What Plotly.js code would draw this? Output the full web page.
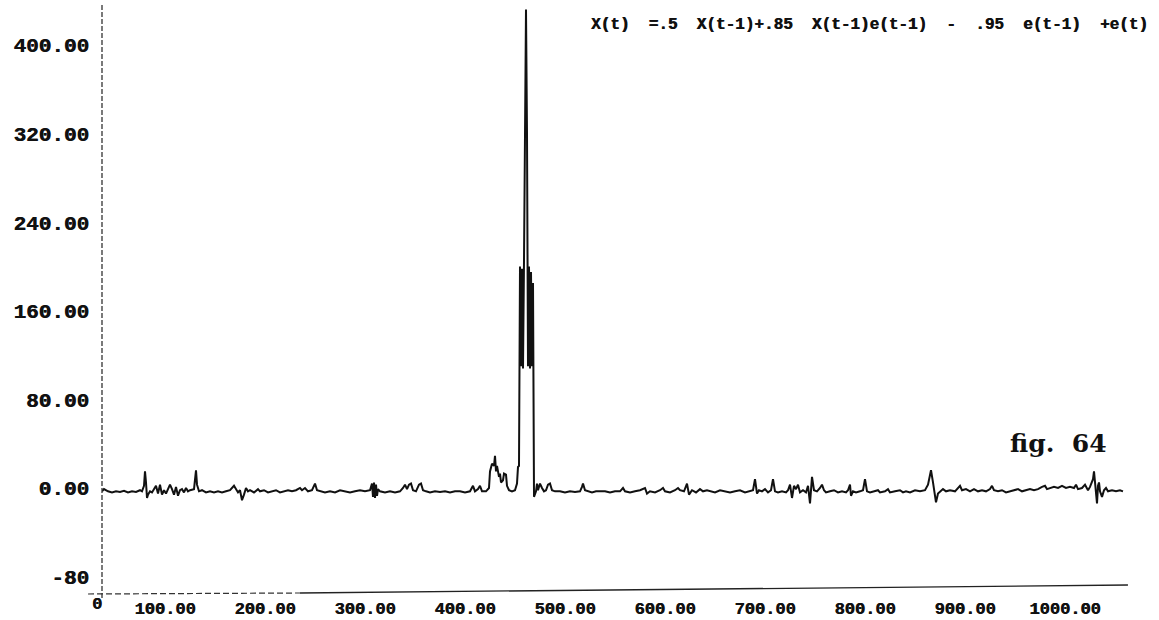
<!DOCTYPE html>
<html>
<head>
<meta charset="utf-8">
<script src="https://cdn.plot.ly/plotly-3.0.1.min.js"></script>
<style>
html,body{margin:0;padding:0;background:#fff;}
#chart{width:1159px;height:620px;}
</style>
</head>
<body>
<div id="chart"></div>
<script>
// time index (axis units) and series values X(t)
const tIndex = [
 37,39,43,47,51,55,59,63,67,71,75,77,79,80,81,82,83,85,87,91,93,95,97,99,101,105,107,109,111,113,115,117,119,121,123,125,129,131,132,134,137,141,145,149,153,157,161,165,169,171,173,175,177,179,181,183,185,189,193,195,199,203,207,211,215,219,223,
 227,231,235,237,240,243,247,250,252,255,260,265,270,275,280,285,290,295,300,305,307,308,309,310,311,312,313,315,320,325,330,335,338,340,342,344,346,348,351,354,356,358,361,365,370,375,380,385,390,395,400,405,408,410,413,415,417,421,424,425,427,429,430,431,432,434,435,436,438,439,441,442,444,447,450,452,453,454,
 455,456,457,458,459,460,461,462,463,464,465,466,467,468,469,
 471,472,473,475,477,479,481,483,485,487,490,495,500,505,510,515,517,518,520,523,527,531,535,
 540,545,550,555,558,560,565,570,575,580,582,585,590,595,598,600,605,610,613,615,619,622,624,627,631,635,638,642,646,650,655,660,665,670,675,680,685,688,690,692,694,697,700,703,706,708,710,713,717,721,723,725,727,729,731,733,735,738,741,743,745,747,749,752,
 755,757,759,761,765,769,773,777,781,783,785,786,788,791,795,798,800,802,805,810,813,815,820,823,825,830,835,838,841,845,850,855,860,863,865,866,868,870,871,873,875,878,881,885,890,893,895,897,901,905,909,913,917,921,925,927,929,933,937,941,945,
 949,953,957,961,965,969,973,977,980,982,985,989,993,997,1001,1005,1009,1011,1013,1017,1020,1023,1025,1028,1029,1030,1031,1032,1033,1034,1035,1037,1039,1041,1043,1047,1051,1055,1058
];
const xValues = [
 -3,-1,-3,-4,-3,-3.5,-2.5,-4,-3,-3.5,-2,-3,2,15,5,-9,-6,-3,-4,2,-5,3,-6,-2,-5,3,-1,-6,1,-7,-2,-1,-4,0,-3,-2,-1,16,3,-3,-2,-4,-3,-4,-3,-4,-3,-2,2,-1,-4,-2,-11,-6,0,-3,-2,-4,-1,-3,-2,-4,-3,-2,-4,-3,-2,
 -3,-2,0,-2,0,-3,-2,4,-2,-3,-4,-3,-4,-2,-3,-4,-3,-2,-3,-2,4,-8,5,-9,3,-7,-1,-3,-4,-3,-4,-3,0,3,-1,3,4,-2,-3,3,4,-2,-3,-4,-3,-3.5,-3,-4,-3,-3,-4,-3,2,-3,-1,2,-3,-3,0,15,22,20,29,15,20,10,13,5,7,13,12,2,-2,-3,-2,4,19,20,
 200,110,198,108,205,330,432,320,110,200,108,195,110,185,-8,
 -3,4,-2,4,0,-3,-2,3,4,-2,-3,-3,-4,-3,-3.5,-3,1,4,-2,-3,-4,-3,-3,
 -3,-4,-3,-3,0,-3,-4,-3,-2,0,-5,-3,-4,-2,0,-3,-4,-2,0,-2,-3,4,-6,-2,-4,-1,-3,-2,-3,-4,-2,-3,-4,-3,-2,-4,-3,-2,8,-5,-2,-3,-1,-4,-2,8,-3,-4,-3,-4,-2,3,-9,2,-1,3,-4,-2,-4,2,-14,10,-2,-3,
 0,3,-2,-4,-3,-2,-4,-3,-4,-2,3,-7,-3,-4,-3,-2,8,-3,-4,-3,-2,-4,-3,-1,-4,-3,-2,-4,-3,-4,-2,-3,-2,3,10,16,5,-9,-13,-5,-3,-1,-3,-2,-3,0,2,-2,-1,-3,-1,-3,-2,-3,-1,2,-2,-3,-2,-4,-3,
 -2,-1,-3,-2,-1,-2,-1,1,2,-1,0,1,0,2,0,1,0,3,-1,0,3,-2,1,8,15,4,-10,-14,2,5,-3,-8,-2,0,-3,-2,-3,-2,-3
];
const xTickVals = [100,200,300,400,500,600,700,800,900,1000];
const xTickText = ['100.00','200.00','300.00','400.00','500.00','600.00','700.00','800.00','900.00','1000.00'];
const yTickVals = [-80,0,80,160,240,320,400];
const yTickText = ['-80','0.00','80.00','160.00','240.00','320.00','400.00'];
const equationText = 'X(t)\u00a0\u00a0=.5\u00a0\u00a0X(t-1)+.85\u00a0\u00a0X(t-1)e(t-1)\u00a0\u00a0-\u00a0\u00a0.95\u00a0\u00a0e(t-1)\u00a0\u00a0+e(t)';
const figLabel = 'fig.\u00a0\u00a064';

const xTickFont = {family:'Liberation Mono, monospace', size:17, color:'#111', weight:'bold', shadow:'0.6px 0 0 #111'};
const yTickFont = {family:'Liberation Mono, monospace', size:21, color:'#111', weight:'bold', shadow:'0.6px 0 0 #111'};

const trace = {
  x: tIndex, y: xValues, type:'scatter', mode:'lines',
  line:{color:'#111', width:2}, hoverinfo:'skip'
};

const layout = {
  width:1159, height:620,
  margin:{l:102, r:30, t:5, b:28},
  paper_bgcolor:'#fff', plot_bgcolor:'#fff',
  showlegend:false,
  xaxis:{range:[37,1064], tickvals:xTickVals, ticktext:xTickText, showgrid:false, zeroline:false,
         showline:false, ticks:'', tickfont:xTickFont, ticklabelstandoff:4},
  yaxis:{range:[-93.9,436.1], tickvals:yTickVals, ticktext:yTickText, showgrid:false, zeroline:false,
         showline:false, ticks:'', tickfont:yTickFont, ticklabelstandoff:12},
  shapes:[
    {type:'line', xref:'paper', yref:'paper', x0:0, x1:0, y0:1.0, y1:-0.0136,
     line:{color:'#333', width:1.3, dash:'5px,2px'}},
    {type:'line', xref:'paper', yref:'paper', x0:-0.0136, x1:0.1928, y0:-0.0034, y1:-0.0017,
     line:{color:'#333', width:1.2, dash:'6px,3px'}},
    {type:'line', xref:'paper', yref:'paper', x0:0.1928, x1:0.999, y0:-0.0017, y1:0.0119,
     line:{color:'#222', width:1.3}}
  ],
  annotations:[
    {text:equationText, xref:'paper', yref:'paper', x:1.0204, y:0.966, xanchor:'right', yanchor:'middle',
     showarrow:false, font:{family:'Liberation Mono, monospace', size:16, color:'#111', weight:'bold', shadow:'0.6px 0 0 #111'}},
    {text:figLabel, xref:'paper', yref:'paper', x:0.9318, y:0.2538, xanchor:'center', yanchor:'middle',
     showarrow:false, font:{family:'DejaVu Serif, serif', size:25, color:'#111', weight:'bold'}},
    {text:'0', xref:'paper', yref:'paper', x:-0.0049, y:-0.022, xanchor:'center', yanchor:'middle',
     showarrow:false, font:xTickFont}
  ]
};

Plotly.newPlot('chart', [trace], layout, {staticPlot:true, displayModeBar:false});
</script>
</body>
</html>
